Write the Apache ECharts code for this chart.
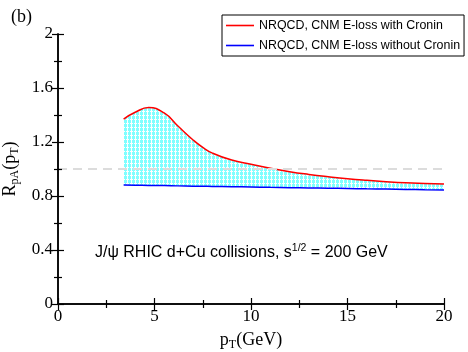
<!DOCTYPE html>
<html>
<head>
<meta charset="utf-8">
<script src="https://cdn.jsdelivr.net/npm/echarts@6/dist/echarts.min.js"></script>
<style>
  html, body { margin: 0; padding: 0; background: #fff; }
  #chart { width: 468px; height: 352px; }
</style>
</head>
<body>
<div id="chart"></div>
<script>
// pT grid shared by both curves (GeV)
var pT = [3.4, 4, 4.7, 5.5, 6.2, 7, 7.5, 8, 9, 10, 11, 12, 13, 14, 15, 16, 17, 18, 19, 20];
// CNM E-loss with Cronin
var withCronin = [1.37, 1.42, 1.455, 1.415, 1.32, 1.215, 1.16, 1.118, 1.066, 1.035, 1.005, 0.98, 0.96, 0.943, 0.928, 0.916, 0.906, 0.898, 0.893, 0.889];
// CNM E-loss without Cronin
var withoutCronin = [0.881, 0.880, 0.878, 0.877, 0.875, 0.873, 0.872, 0.871, 0.869, 0.867, 0.864, 0.862, 0.860, 0.858, 0.856, 0.853, 0.851, 0.849, 0.846, 0.844];
var xTicks = [0, 5, 10, 15, 20];
var yTicks = [0, 0.4, 0.8, 1.2, 1.6, 2];
var refLevel = 1;

var chart = echarts.init(document.getElementById('chart'));

// cyan dotted fill like the original
var pat = document.createElement('canvas');
pat.width = 4; pat.height = 4;
var ctx = pat.getContext('2d');
ctx.fillStyle = '#80ffff';
ctx.fillRect(0, 0, 4, 4);
ctx.fillStyle = '#ffffff';
ctx.fillRect(3, 0, 1, 4);
ctx.fillRect(0, 3, 1, 1);
ctx.fillRect(2, 3, 1, 1);

function pairs(ys) {
	var out = [];
	for (var i = 0; i < pT.length; i++) out.push([pT[i], ys[i]]);
	return out;
}

var serif = 'Liberation Serif';
var sans = 'Liberation Sans';
var subRich = {
	n: {fontFamily: serif, fontSize: 18, color: '#000'},
	sub: {fontFamily: serif, fontSize: 12, color: '#000', padding: [9, 0, 0, 0]}
};

var axisCommon = {
	z: 10,
	axisLine: {lineStyle: {color: '#000', width: 1.5}},
	axisTick: {inside: true, length: 6, lineStyle: {color: '#000', width: 1.2}},
	minorTick: {show: true, splitNumber: 2, length: 4, lineStyle: {color: '#000', width: 1.2}},
	splitLine: {show: false}
};

var option = {
	backgroundColor: '#fff',
	animation: false,
	title: {
		text: '(b)', left: 6, top: 3,
		textStyle: {fontFamily: serif, fontSize: 18, fontWeight: 'normal', color: '#000'}
	},
	grid: {left: 58, right: 24, top: 34, bottom: 48, outerBoundsMode: 'none', containLabel: false},
	legend: {
		data: [
			{name: 'NRQCD, CNM E-loss with Cronin', icon: 'rect'},
			{name: 'NRQCD, CNM E-loss without Cronin', icon: 'rect'}
		],
		orient: 'vertical', left: 222, top: 15,
		padding: [3, 4, 3, 4], itemGap: 5,
		itemWidth: 28, itemHeight: 1.6,
		borderColor: '#000', borderWidth: 1, backgroundColor: '#fff',
		textStyle: {fontFamily: sans, fontSize: 12.4, color: '#000', lineHeight: 15}
	},
	xAxis: [
		Object.assign({
			type: 'value', min: 0, max: 20, interval: 5,
			name: '{n|p}{sub|T}{n|(GeV)}', nameLocation: 'middle', nameGap: 26,
			nameTextStyle: {rich: subRich},
			axisLabel: {fontFamily: serif, fontSize: 17, color: '#000', margin: 4,
				formatter: function (v) { return xTicks.indexOf(v) >= 0 ? String(v) : ''; }}
		}, axisCommon),
		Object.assign({
			type: 'value', min: 0, max: 20, interval: 5, position: 'top',
			axisLabel: {show: false}
		}, axisCommon)
	],
	yAxis: [
		Object.assign({
			type: 'value', min: 0, max: 2, interval: 0.4,
			name: '{n|R}{sub|pA}{n|(p}{sub|T}{n|)}', nameLocation: 'middle', nameGap: 33,
			nameTextStyle: {rich: subRich},
			axisLabel: {fontFamily: serif, fontSize: 17, color: '#000', margin: 5,
				formatter: function (v) {
					for (var k = 0; k < yTicks.length; k++) if (Math.abs(yTicks[k] - v) < 1e-6) return String(yTicks[k]);
					return '';
				}}
		}, axisCommon),
		Object.assign({
			type: 'value', min: 0, max: 2, interval: 0.4, position: 'right',
			axisLabel: {show: false}
		}, axisCommon)
	],
	graphic: [{
		type: 'text', left: 95, top: 243, z: 100,
		style: {
			text: '{a|J/ψ RHIC d+Cu collisions, s}{s|1/2}{a| = 200 GeV}',
			rich: {
				a: {fontFamily: sans, fontSize: 16, color: '#000'},
				s: {fontFamily: sans, fontSize: 10.5, color: '#000', padding: [0, 0, 9, 0]}
			}
		}
	}],
	series: [
		{
			// band fill: cyan under the upper curve...
			name: 'fillTop', type: 'line', smooth: true,
			data: pairs(withCronin), showSymbol: false,
			lineStyle: {width: 0, opacity: 0},
			areaStyle: {color: {image: pat, repeat: 'repeat'}, opacity: 1, origin: 'start'},
			silent: true, z: 1
		},
		{
			// ...then white under the lower curve
			name: 'fillMask', type: 'line', smooth: true,
			data: pairs(withoutCronin), showSymbol: false,
			lineStyle: {width: 0, opacity: 0},
			areaStyle: {color: '#fff', opacity: 1, origin: 'start'},
			silent: true, z: 2
		},
		{
			name: 'ref', type: 'line', data: [], z: 3,
			markLine: {
				silent: true, symbol: 'none', label: {show: false},
				lineStyle: {color: '#dcdcdc', type: [9, 6], width: 2},
				data: [{yAxis: refLevel}]
			}
		},
		{
			name: 'NRQCD, CNM E-loss with Cronin', type: 'line', smooth: true,
			data: pairs(withCronin), showSymbol: false,
			lineStyle: {color: '#ff0000', width: 1.5}, itemStyle: {color: '#ff0000'}, z: 4
		},
		{
			name: 'NRQCD, CNM E-loss without Cronin', type: 'line', smooth: true,
			data: pairs(withoutCronin), showSymbol: false,
			lineStyle: {color: '#0000ff', width: 1.5}, itemStyle: {color: '#0000ff'}, z: 4
		}
	]
};

chart.setOption(option);
</script>
</body>
</html>
